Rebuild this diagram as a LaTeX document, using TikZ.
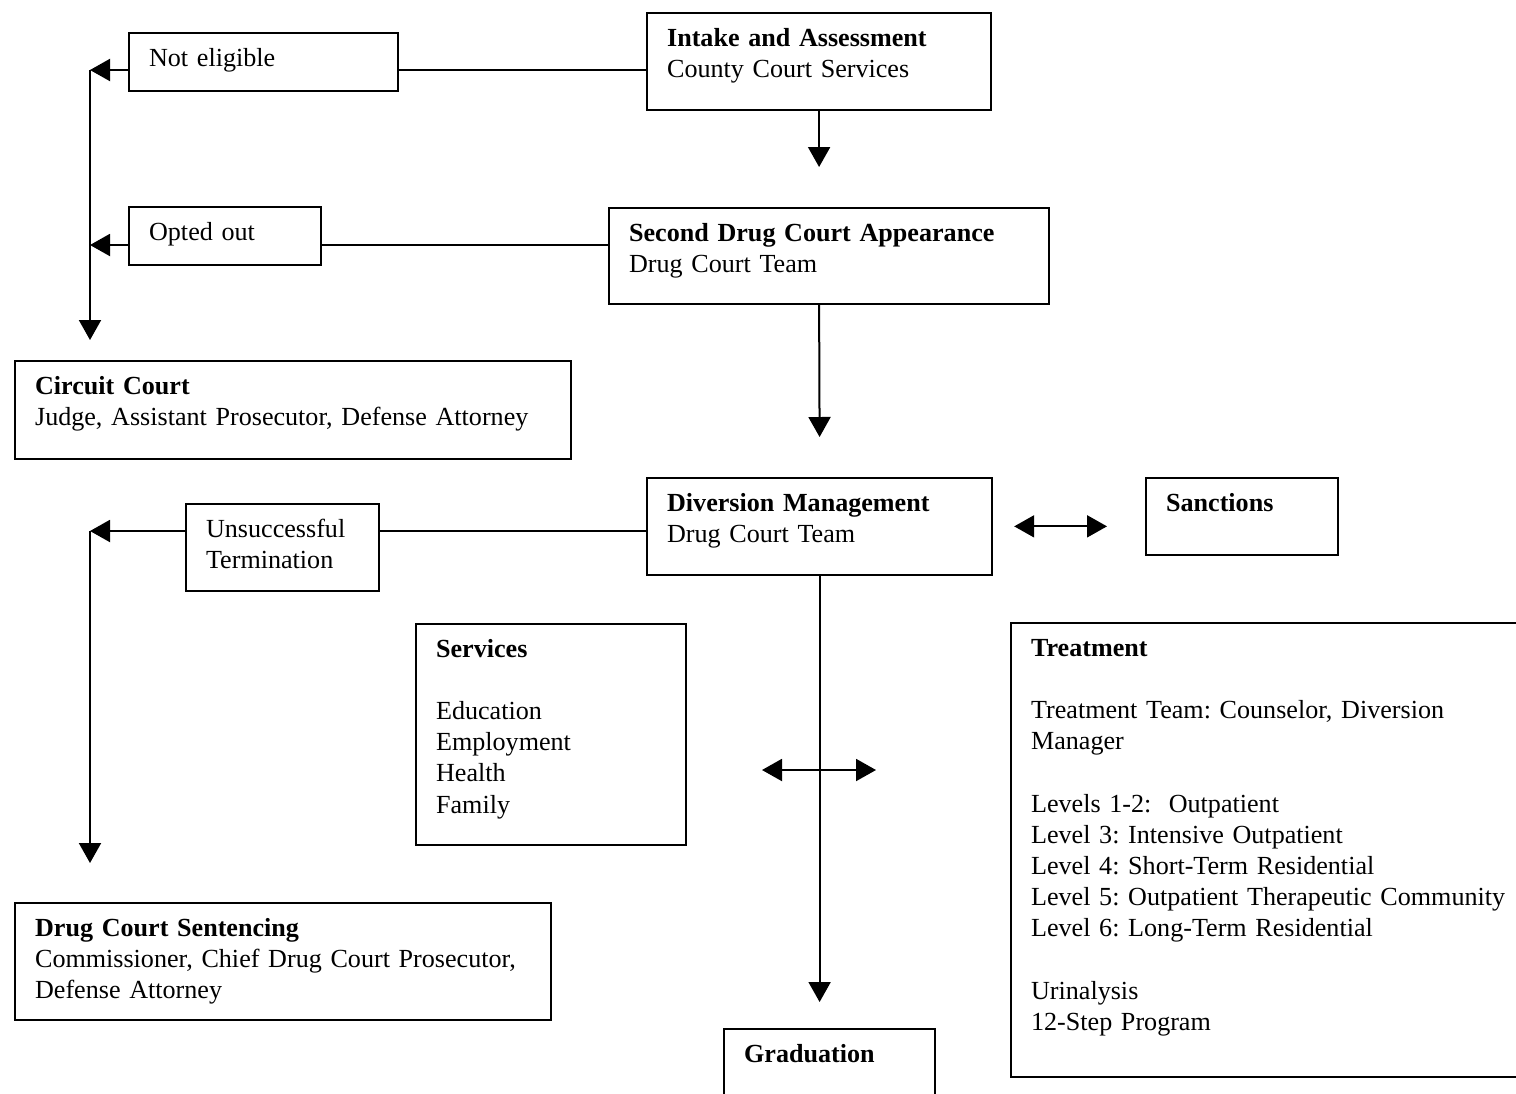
\documentclass[tikz,border=0pt]{standalone}
\usepackage{fontspec}
\setmainfont{Liberation Serif}
\usetikzlibrary{arrows.meta,positioning}

\begin{document}
\begin{tikzpicture}[
        x=0.5pt, y=-0.5pt,
        box/.style={
          draw,
          line width=1.1pt,
          anchor=north west,
          align=left,
          inner xsep=10pt,
          inner ysep=0pt,
          text height=16.5pt,
          font=\fontsize{13.05}{15.6}\selectfont\frenchspacing
        },
        link/.style={
          line width=1pt
        },
        arrow/.style={
          -{Triangle[length=10pt,width=11pt]},
          line width=1pt
        },
        twoway/.style={
          {Triangle[length=10pt,width=11pt]}-{Triangle[length=10pt,width=11pt]},
          line width=1pt
        }
      ]

      \path[use as bounding box] (0,0) rectangle (1516,1093);
      \clip (0,0) rectangle (1516,1093);

      \node[box, text width=152pt, text depth=31.75pt] (intake) at (646,12) {\textbf{Intake and Assessment}\\County Court Services};
      \node[box, text width=114.5pt, text depth=12.25pt] (noteligible) at (128,32) {Not eligible};
      \node[box, text width=200pt, text depth=31.25pt] (second) at (608,207) {\textbf{Second Drug Court Appearance}\\Drug Court Team};
      \node[box, text width=76pt, text depth=12.25pt] (optedout) at (128,206) {Opted out};
      \node[box, text width=258pt, text depth=32.25pt] (circuit) at (14,360) {\textbf{Circuit Court}\\Judge, Assistant Prosecutor, Defense Attorney};
      \node[box, text width=152.5pt, text depth=31.75pt] (diversion) at (646,477) {\textbf{Diversion Management}\\Drug Court Team};
      \node[box, text width=76pt, text depth=21.75pt] (sanctions) at (1145,477) {\textbf{Sanctions}};
      \node[box, text width=76.5pt, text depth=26.75pt] (unsuccessful) at (185,503) {Unsuccessful\\Termination};
      \node[box, text width=115pt, text depth=93.75pt] (services) at (415,623) {\textbf{Services}\\[15.6pt]Education\\Employment\\Health\\Family};
      \node[box, text width=250pt, text depth=210.25pt] (treatment) at (1010,622) {\textbf{Treatment}\\[15.6pt]Treatment Team: Counselor, Diversion\\Manager\\[15.6pt]Levels 1-2:~ Outpatient\\Level 3: Intensive Outpatient\\Level 4: Short-Term Residential\\Level 5: Outpatient Therapeutic Community\\Level 6: Long-Term Residential\\[15.6pt]Urinalysis\\12-Step Program};
      \node[box, text width=248pt, text depth=41.75pt] (sentencing) at (14,902) {\textbf{Drug Court Sentencing}\\Commissioner, Chief Drug Court Prosecutor,\\Defense Attorney};
      \node[box, text width=85.5pt, text depth=40pt] (graduation) at (723,1028) {\textbf{Graduation}};

      % left-hand exits
      \coordinate (elbowA) at (90,70);
      \coordinate (elbowB) at (90,245);
      \coordinate (elbowC) at (90,531);
      \coordinate (supportL) at (762,770);
      \coordinate (supportR) at (876,770);

      \draw[link] (intake.west |- elbowA) -- (noteligible.east |- elbowA);
      \draw[arrow] (noteligible.west |- elbowA) -- (elbowA);
      \draw[link] (second.west |- elbowB) -- (optedout.east |- elbowB);
      \draw[arrow] (optedout.west |- elbowB) -- (elbowB);
      \draw[arrow] (elbowA) -- ([yshift=10pt]circuit.north -| elbowA);

      % main line
      \draw[arrow] (intake.south) -- ([yshift=20pt]second.north -| intake.south);
      \draw[arrow] (second.south -| intake.south) -- ([yshift=20pt]diversion.north);
      \draw[arrow] (diversion.south) -- ([yshift=13pt]graduation.north -| diversion.south);

      \draw[link] (diversion.west |- elbowC) -- (unsuccessful.east |- elbowC);
      \draw[arrow] (unsuccessful.west |- elbowC) -- (elbowC);
      \draw[arrow] (elbowC) -- ([yshift=19.5pt]sentencing.north -| elbowC);

      \draw[twoway] ([xshift=10.5pt]diversion.east) -- ([xshift=-19pt]sanctions.west |- diversion.east);
      \draw[twoway] (supportL) -- (supportR);

      \end{tikzpicture}
\end{document}
